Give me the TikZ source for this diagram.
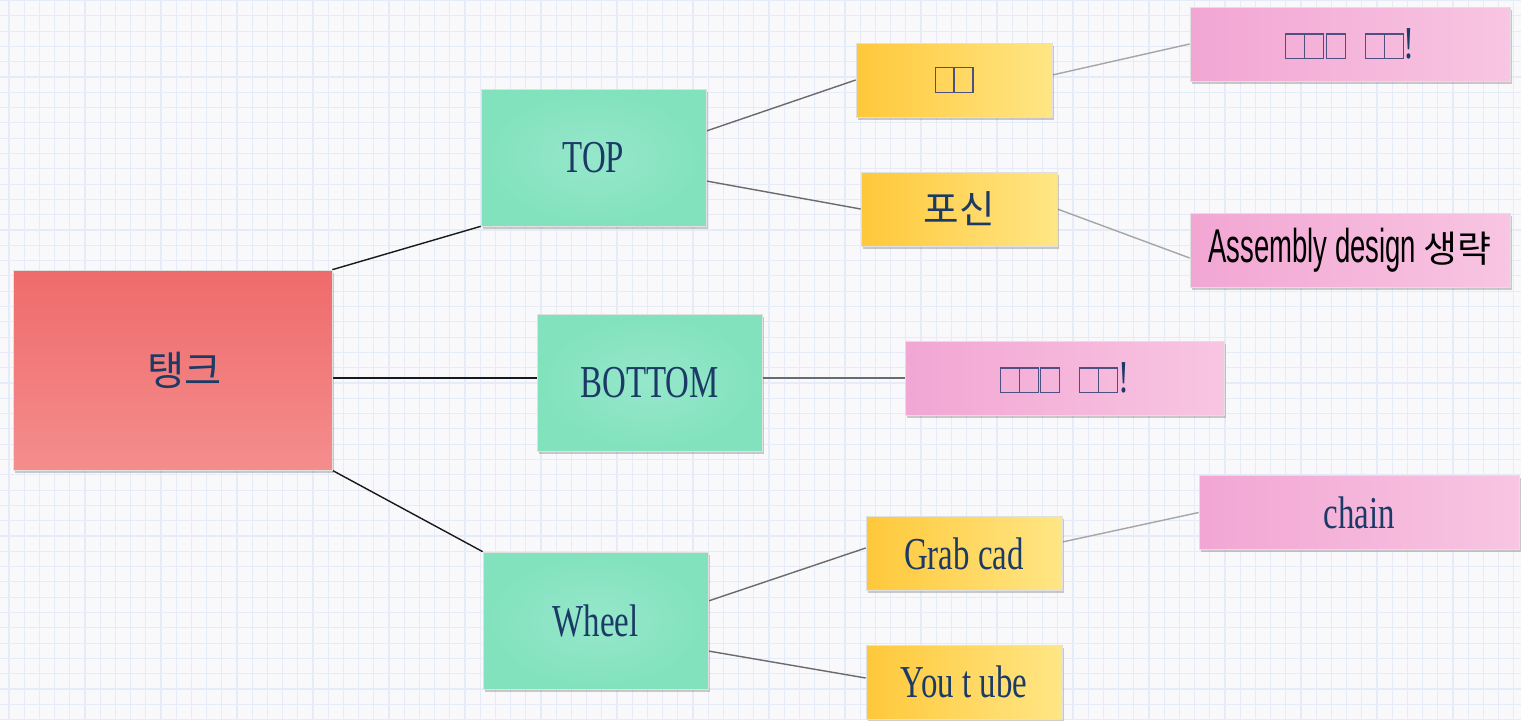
\documentclass[tikz,border=0pt]{standalone}
\usepackage{fontspec}
\usetikzlibrary{shadows}
\newfontfamily\serifc{Liberation Serif}[FakeStretch=0.72]
\newfontfamily\krfont{Noto Sans CJK KR}
\newfontfamily\asmfont{Liberation Sans}[FakeStretch=0.58]
\definecolor{navy}{HTML}{1B3A66}
\definecolor{tofuc}{HTML}{4D5080}
\definecolor{bgc}{HTML}{F9F9FB}
\definecolor{gridc}{HTML}{E5ECF7}
\definecolor{redA}{HTML}{EF6B6B}
\definecolor{redB}{HTML}{F58D8D}
\definecolor{tealA}{HTML}{96E7CB}
\definecolor{tealB}{HTML}{82E2BD}
\definecolor{yelA}{HTML}{FFC83A}
\definecolor{yelB}{HTML}{FFE685}
\definecolor{pinkA}{HTML}{F2A6D3}
\definecolor{pinkB}{HTML}{F8C5E2}
\newcommand{\tofu}{{\color{tofuc}\setlength{\fboxsep}{0pt}\setlength{\fboxrule}{0.6pt}\fbox{\rule{0pt}{13.6pt}\hspace{10.2pt}}}}
\pgfdeclarelayer{gridlayer}
\pgfdeclarelayer{edgelayer}
\pgfsetlayers{gridlayer,edgelayer,main}
\tikzset{
  basebox/.style={rectangle, inner sep=0pt, text=navy, draw=black!12, line width=0.4pt,
    drop shadow={shadow xshift=1.3pt, shadow yshift=-1.6pt, opacity=0.28, fill=black!70},
    font=\serifc\fontsize{26}{30}\selectfont},
  redbox/.style={basebox, minimum width=6.38cm, minimum height=4cm, top color=redA, bottom color=redB},
  tealbox/.style={basebox, minimum width=4.5cm, minimum height=2.74cm, shading=radial, inner color=tealA, outer color=tealB},
  yellowbox/.style={basebox, minimum width=3.92cm, minimum height=1.48cm, left color=yelA, right color=yelB},
  pinkbox/.style={basebox, minimum width=6.4cm, minimum height=1.48cm, left color=pinkA, right color=pinkB},
  edgeA/.style={draw=black!90, line width=0.8pt},
  edgeB/.style={draw=black!58, line width=0.8pt},
  edgeC/.style={draw=black!35, line width=0.8pt},
  gridline/.style={draw=gridc, line width=0.6pt}
}
\begin{document}
\begin{tikzpicture}[x=0.02cm, y=-0.02cm]
\useasboundingbox (0,0) rectangle (1521,720);
\begin{pgfonlayer}{gridlayer}
  \fill[bgc] (0,0) rectangle (1521,720);
  \begin{scope}
    \clip (0,0) rectangle (1521,720);
    \foreach \i in {0,...,100} \draw[gridline] ({9+\i*15.2},0) -- ({9+\i*15.2},720);
    \foreach \j in {0,...,48} \draw[gridline] (0,{0.5+\j*15.3}) -- (1521,{0.5+\j*15.3});
  \end{scope}
\end{pgfonlayer}

% nodes
\node[redbox] (tank) at (172.5,370) {\hspace*{14pt}\krfont\fontsize{23}{26}\selectfont 탱크};
\node[tealbox] (top) at (593.5,157.5) {TOP};
\node[tealbox] (bottom) at (649.5,382.5) {BOTTOM};
\node[tealbox] (wheel) at (595.5,620.5) {Wheel};
\node[yellowbox] (y1) at (954,80) {\tofu\kern-0.6pt\tofu};
\node[yellowbox] (posin) at (959,209) {\krfont\fontsize{22}{26}\selectfont 포신};
\node[yellowbox] (grab) at (964,553.5) {Grab cad};
\node[yellowbox] (yt) at (964,682) {You t ube};
\node[pinkbox] (p1) at (1350,44) {\tofu\kern-0.6pt\tofu\kern0.8pt\tofu\hspace{11pt}\tofu\kern-0.6pt\tofu!};
\node[pinkbox, text=black] (asm) at (1350,250) {\asmfont\fontsize{27}{30}\selectfont Assembly design \krfont\fontsize{21}{26}\selectfont 생략};
\node[pinkbox, minimum width=6.38cm] (pb) at (1064.5,378) {\tofu\kern-0.6pt\tofu\kern0.8pt\tofu\hspace{11pt}\tofu\kern-0.6pt\tofu!};
\node[pinkbox] (chain) at (1359,512.5) {chain};

% connectors
\begin{pgfonlayer}{edgelayer}
  \draw[edgeA] (tank.north east) -- (top.south west);
  \draw[edgeA] (tank.east |- pb.west) -- (bottom.west |- pb.west);
  \draw[edgeA] (tank.south east) -- (wheel.north west);
  \draw[edgeB] ([yshift=0.53cm]top.east) -- (y1.west);
  \draw[edgeB] ([yshift=-0.47cm]top.east) -- (posin.west);
  \draw[edgeC] ([yshift=0.1cm]y1.east) -- (p1.west);
  \draw[edgeC] (posin.east) -- ([yshift=-0.16cm]asm.west);
  \draw[edgeB] (bottom.east |- pb.west) -- (pb.west);
  \draw[edgeB] ([yshift=0.39cm]wheel.east) -- ([yshift=0.11cm]grab.west);
  \draw[edgeB] ([yshift=-0.61cm]wheel.east) -- ([yshift=0.08cm]yt.west);
  \draw[edgeC] ([yshift=0.23cm]grab.east) -- (chain.west);
\end{pgfonlayer}
\end{tikzpicture}
\end{document}
